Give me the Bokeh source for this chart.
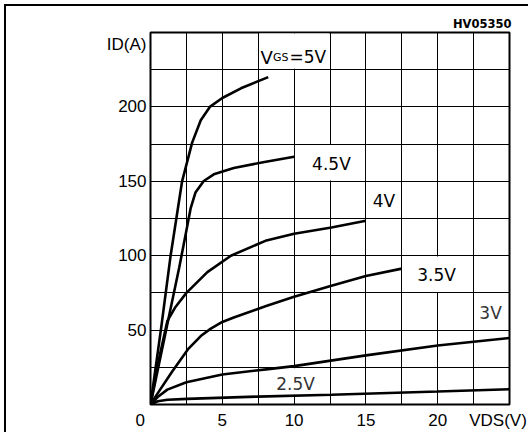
from bokeh.plotting import figure
from bokeh.models import Range1d, FixedTicker, Label, ColumnDataSource, InlineStyleSheet
from bokeh.embed import file_html
from bokeh.resources import INLINE

# ---- data (VDS in V, ID in A) ----
vds_5v = [0, 0.75, 1.4, 1.8, 2.2, 2.9, 3.5, 4.13, 5.0, 6.3, 8.2]
id_5v = [0, 52, 100, 125, 150, 176, 191, 200, 206, 212.5, 220]

vds_45v = [0, 1.0, 2.0, 2.5, 2.8, 3.13, 3.71, 4.41, 5.8, 7.94, 10.0]
id_45v = [0, 46, 92, 117, 132, 142.4, 150.2, 154.7, 159, 163, 166.5]

vds_4v = [0, 0.6, 1.17, 1.7, 2.5, 3.96, 5.6, 8.0, 10.0, 12.6, 15.0]
id_4v = [0, 31, 56, 65, 75, 89, 100, 110, 114.7, 119, 123.5]

vds_35v = [0, 0.6, 1.5, 2.6, 3.5, 4.2, 5.0, 5.8, 8.0, 10.0, 12.6, 15.0, 17.5]
id_35v = [0, 9, 22, 37, 46, 51, 55.5, 58.5, 66, 72.4, 79.8, 86.4, 91.3]

vds_3v = [0, 0.5, 1.17, 2.5, 5.0, 8.2, 10.0, 15.0, 20.0, 25.0]
id_3v = [0, 5, 10, 15, 20.2, 23.8, 25.8, 33, 39.6, 44.7]

vds_25v = [0, 0.5, 1.2, 2.56, 7.46, 12.6, 20.0, 25.0]
id_25v = [0, 2.2, 3.2, 3.8, 5.3, 6.6, 8.7, 10.2]

x_ticks = [0, 5, 10, 15, 20]
y_ticks = [50, 100, 150, 200]
x_grid = [2.5, 5, 7.5, 10, 12.5, 15, 17.5, 20, 22.5]
y_grid = [25, 50, 75, 100, 125, 150, 175, 200, 225]

curve_names = ["4.5V", "4V", "3.5V", "3V", "2.5V"]
x_title = "VDS(V)"
y_title = "ID(A)"
fig_id = "HV05350"

# ---- figure ----
p = figure(width=528, height=432, x_range=Range1d(0, 25), y_range=Range1d(0, 250),
           output_backend="svg", toolbar_location=None,
           min_border_left=150, min_border_right=19, min_border_top=32, min_border_bottom=25,
           background_fill_color="white", border_fill_color="white")

# outer document frame: only its left and top edges fall inside the picture
p.stylesheets = [InlineStyleSheet(css=(
    ":host { overflow: hidden; } "
    ":host::after { content: ''; position: absolute; left: 4px; top: 4px; "
    "width: calc(100% - 4px); height: calc(100% - 4px); box-sizing: border-box; "
    "border-left: 2px solid black; border-top: 2px solid black; "
    "pointer-events: none; z-index: 10; }"))]

p.title.text = fig_id
p.title.align = "right"
p.title.text_font = "DejaVu Sans"
p.title.text_font_style = "bold"
p.title.text_font_size = "11.5px"
p.title.text_color = "black"
p.title.standoff = 3
p.title.offset = -2

p.outline_line_color = "black"
p.outline_line_width = 2
p.outline_line_alpha = 1

for ax in (p.xaxis, p.yaxis):
    ax.axis_line_color = None
    ax.major_tick_line_color = None
    ax.minor_tick_line_color = None
    ax.major_tick_out = 0
    ax.major_tick_in = 0
    ax.minor_tick_out = 0
    ax.minor_tick_in = 0
    ax.major_label_text_font = "Liberation Sans"
    ax.major_label_text_font_size = "17px"
    ax.major_label_text_color = "black"

# axis titles sit in line with the tick labels, as on the datasheet
x_title_pos = 24.2
y_title_pos = 242
p.xaxis.ticker = FixedTicker(ticks=x_ticks + [x_title_pos])
p.xaxis.major_label_overrides = {0: "0\u2002\u2002\u2009", x_title_pos: x_title}
p.yaxis.ticker = FixedTicker(ticks=y_ticks + [y_title_pos])
p.yaxis.major_label_overrides = {y_title_pos: y_title}
p.xaxis.major_label_standoff = 6
p.yaxis.major_label_standoff = 4

p.xgrid.ticker = FixedTicker(ticks=x_grid)
p.ygrid.ticker = FixedTicker(ticks=y_grid)
for g in (p.xgrid, p.ygrid):
    g.grid_line_color = "black"
    g.grid_line_alpha = 1
    g.grid_line_width = 1

# white boxes behind the curve labels (hide grid lines)
boxes = dict(left=[7.56, 10.06, 17.56, 8.5], right=[12.44, 14.94, 22.44, 12.2],
             bottom=[225.6, 150.6, 75.6, 6.5], top=[249.4, 174.4, 99.4, 24.4])
p.quad(source=ColumnDataSource(boxes), left="left", right="right", bottom="bottom",
       top="top", fill_color="white", line_color=None)

# curves
for xs, ys in [(vds_5v, id_5v), (vds_45v, id_45v), (vds_4v, id_4v),
               (vds_35v, id_35v), (vds_3v, id_3v), (vds_25v, id_25v)]:
    p.line(xs, ys, line_color="black", line_width=2.6)

# curve labels
lab_x = [12.6, 16.26, 19.92, 23.68, 10.1]
lab_y = [161.3, 136.9, 86.9, 61.3, 13.5]
lab_c = ["black", "black", "black", "#333333", "#333333"]
for t, x, y, c in zip(curve_names, lab_x, lab_y, lab_c):
    p.add_layout(Label(x=x, y=y, text=t, text_font="DejaVu Sans", text_font_size="17px",
                       text_align="center", text_baseline="middle", text_color=c))

# V_GS = 5V (subscript drawn smaller)
for text, size, xo in [("V", "18px", 0), ("GS", "11px", 12.5), ("=5V", "17px", 29)]:
    p.add_layout(Label(x=7.66, y=233.3, x_offset=xo, text=text, text_font="DejaVu Sans",
                       text_font_size=size, text_align="left", text_baseline="alphabetic",
                       text_color="black"))

open("out.html", "w").write(file_html(p, INLINE))
